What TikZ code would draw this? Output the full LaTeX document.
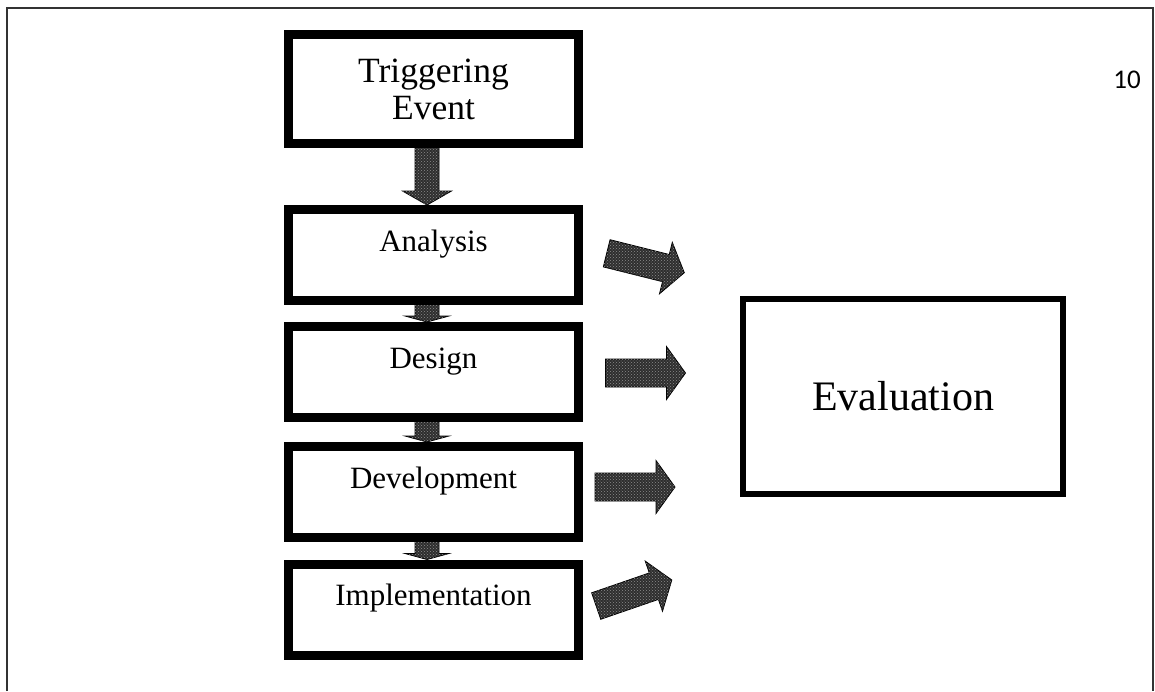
\documentclass[tikz,border=0pt]{standalone}
\usepackage{fontspec}
\setmainfont{Liberation Serif}
\newfontfamily\slidefont{Carlito}
\usetikzlibrary{calc,patterns}

\tikzset{
  stagebox/.style={draw, line width=6pt, inner sep=0pt, minimum width=287pt,
    text height=40pt, text depth=48pt, font=\fontsize{31}{36}\selectfont},
  blockfill/.style={fill=black!82, draw=black, line width=0.8pt, line join=miter,
    postaction={pattern=crosshatch dots, pattern color=black!45}},
  framing/.style={draw=black!80, line width=1.5pt}
}

% horizontal block arrow centred at (#1,#2), turned by #3 degrees
\newcommand\blockarrow[4]{%
  \begin{scope}[shift={(#1,#2)}, rotate=#3]
    \path[blockfill] (-40,-14) -- (21,-14) -- (21,-26.5) -- (40,0)
      -- (21,26.5) -- (21,14) -- (-40,14) -- cycle;
    \coordinate (#4) at (40,0);
  \end{scope}}

\begin{document}
\begin{tikzpicture}[x=1pt, y=-1pt]
  \useasboundingbox (0,0) rectangle (1155,691);

  % page frame, open at the bottom
  \draw[framing] (7,691) -- (7,8) -- (1153,8) -- (1153,691);

  % stages
  \node[draw, line width=6pt, inner sep=0pt, minimum width=287pt, minimum height=106pt,
        align=center, font=\fontsize{35.5}{37}\selectfont]
        (trig) at (433.5,89) {Triggering\\Event};
  \node[stagebox] (ana) at (433.5,255) {Analysis};
  \node[stagebox] (des) at (433.5,372) {Design};
  \node[stagebox] (dev) at (433.5,492) {Development};
  \node[stagebox] (imp) at (433.5,609.5) {Implementation};

  \node[draw, line width=6pt, inner sep=0pt, minimum width=320pt, minimum height=195pt,
        font=\fontsize{42}{48}\selectfont] (eval) at (903,396.5) {Evaluation};

  % downward block arrows between the stages
  \foreach \a/\b/\hl/\hw in {trig/ana/14/24.5, ana/des/6/22, des/dev/6/22, dev/imp/6/22} {
    \coordinate (s) at ($(\a.south)+(-6.5,0)$);
    \coordinate (t) at ($(\b.north)+(-6.5,-3)$);
    \path[blockfill] ($(s)+(-12,0)$) -- ($(t)+(-12,-\hl)$) -- ($(t)+(-\hw,-\hl)$) -- (t)
      -- ($(t)+(\hw,-\hl)$) -- ($(t)+(12,-\hl)$) -- ($(s)+(12,0)$) -- cycle;
  }

  % redraw the box edges over the arrow ends
  \foreach \n in {trig,ana,des,dev,imp}
    \draw[line width=6pt] (\n.south west) rectangle (\n.north east);

  % block arrows pointing to the evaluation
  \blockarrow{645.5}{263}{-14}{pa}
  \blockarrow{645.5}{373}{0}{pd}
  \blockarrow{635}{487}{0}{pv}
  \blockarrow{634}{593}{19}{pi}

  % slide number
  \node[anchor=base, font=\slidefont\fontsize{27}{30}\selectfont, inner sep=0pt]
        (num) at (1127,88) {10};
\end{tikzpicture}
\end{document}
